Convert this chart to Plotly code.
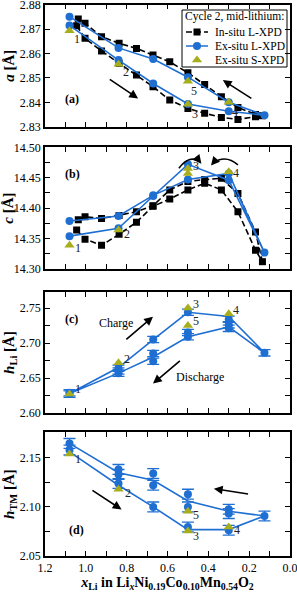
import plotly.graph_objects as go

# ---------------- data ----------------
# In-situ L-XPD (black squares), charge then discharge
insitu_x = [1.045, 1.004, 0.923, 0.837, 0.752, 0.671, 0.589, 0.50, 0.418, 0.336, 0.255, 0.169, 0.135,
            0.169, 0.255, 0.336, 0.418, 0.50, 0.589, 0.671, 0.752, 0.837, 0.923, 1.004, 1.037]
insitu_a = [2.8714, 2.8662, 2.8610, 2.8560, 2.8512, 2.8464, 2.8409, 2.8375, 2.8355, 2.8338, 2.8330, 2.8341, 2.8345,
            2.8350, 2.8379, 2.8423, 2.8473, 2.8521, 2.8566, 2.8594, 2.8621, 2.8642, 2.8669, 2.8724, 2.8741]
insitu_c = [14.364, 14.349, 14.339, 14.357, 14.377, 14.403, 14.415, 14.430, 14.441, 14.430, 14.394, 14.331, 14.312,
            14.361, 14.424, 14.449, 14.447, 14.444, 14.430, 14.404, 14.394, 14.388, 14.383, 14.386, 14.381]

# Ex-situ L-XPD (blue circles): path through the cycle
exl_x = [1.08, 0.84, 0.67, 0.50, 0.30, 0.125, 0.30, 0.50, 0.67, 0.84, 1.08]
exl_a = [2.8715, 2.8573, 2.8477, 2.8393, 2.8363, 2.8347, 2.8400, 2.8503, 2.8577, 2.8623, 2.8751]
exl_c = [14.354, 14.367, 14.420, 14.472, 14.446, 14.327, 14.457, 14.447, 14.421, 14.387, 14.379]
exl_hli_line = [2.628, 2.665, 2.705, 2.744, 2.738, 2.686, 2.723, 2.709, 2.680, 2.657, 2.628]
exl_htm_line = [2.1561, 2.1221, 2.100, 2.0769, 2.0769, 2.0908, 2.0956, 2.1061, 2.1272, 2.1348, 2.1647]

# Ex-situ L-XPD individual refinements for h_Li and h_TM
exl_pts_x = [1.08, 1.08, 0.84, 0.84, 0.84, 0.67, 0.67, 0.67, 0.50, 0.50, 0.50, 0.30, 0.30, 0.30, 0.125]
exl_hli = [2.629, 2.627, 2.664, 2.660, 2.657, 2.705, 2.685, 2.674, 2.744, 2.715, 2.709, 2.734, 2.726, 2.721, 2.686]
exl_htm = [2.1647, 2.1579, 2.1382, 2.1331, 2.1239, 2.1341, 2.1221, 2.100, 2.113, 2.100, 2.0796, 2.0976, 2.0932, 2.0762, 2.0908]
hli_err = 0.0045
htm_err = 0.005

# Ex-situ S-XPD (triangles), samples 1,2,3,5,4
exs_labels = ["1", "2", "3", "5", "4"]
exs_x = [1.08, 0.84, 0.50, 0.50, 0.30]
exs_a = [2.8693, 2.8556, 2.8392, 2.8486, 2.8400]
exs_c = [14.339, 14.364, 14.465, 14.457, 14.460]
exs_hli = [2.627, 2.672, 2.750, 2.725, 2.742]
exs_htm = [2.1538, 2.118, 2.0755, 2.0956, 2.0796]

x_ticks = [round(0.1 * i, 1) for i in range(13)]

legend_title = "Cycle 2, mid-lithium:"
legend_names = ["In-situ L-XPD", "Ex-situ L-XPD", "Ex-situ S-XPD"]

# ---------------- style ----------------
BLUE = "#1f6fd3"
OLIVE = "#a6ae1c"
FONT = "Liberation Serif"

W, H = 297, 592
ML, MR, MT, MB = 45, 7, 4, 36
PH = H - MT - MB
PW = W - ML - MR

def dom(top_px, bot_px):
    return [(H - MB - bot_px) / PH, (H - MB - top_px) / PH]

PANEL_PX = [(4.7, 126.7), (147.3, 269), (292, 413), (432.3, 556)]
doms = [dom(t, b) for t, b in PANEL_PX]

fig = go.Figure()

def add_panel(i, blk_y, blue_line_y, tri_y, blue_pts=None, err=None):
    xa = "x" if i == 1 else f"x{i}"
    ya = "y" if i == 1 else f"y{i}"
    if blk_y is not None:
        fig.add_trace(go.Scatter(x=insitu_x, y=blk_y, xaxis=xa, yaxis=ya, mode="lines+markers",
                                 line=dict(color="black", width=1.6, dash="6px,3px"),
                                 marker=dict(symbol="square", size=7, color="black"),
                                 showlegend=False))
    if blue_pts is None:
        fig.add_trace(go.Scatter(x=exl_x, y=blue_line_y, xaxis=xa, yaxis=ya, mode="lines+markers",
                                 line=dict(color=BLUE, width=1.6),
                                 marker=dict(symbol="circle", size=8, color=BLUE),
                                 showlegend=False))
    else:
        fig.add_trace(go.Scatter(x=exl_x, y=blue_line_y, xaxis=xa, yaxis=ya, mode="lines",
                                 line=dict(color=BLUE, width=1.6), showlegend=False))
        fig.add_trace(go.Scatter(x=exl_pts_x, y=blue_pts, xaxis=xa, yaxis=ya, mode="markers",
                                 marker=dict(symbol="circle", size=8, color=BLUE),
                                 error_y=dict(type="constant", value=err, color=BLUE, thickness=1.3, width=6),
                                 showlegend=False))
    fig.add_trace(go.Scatter(x=exs_x, y=tri_y, xaxis=xa, yaxis=ya, mode="markers",
                             marker=dict(symbol="triangle-up", size=9, color=OLIVE),
                             showlegend=False))

add_panel(1, insitu_a, exl_a, exs_a)
add_panel(2, insitu_c, exl_c, exs_c)
add_panel(3, None, exl_hli_line, exs_hli, blue_pts=exl_hli, err=hli_err)
add_panel(4, None, exl_htm_line, exs_htm, blue_pts=exl_htm, err=htm_err)

# ---------------- legend (drawn in an overlay axis in pixel units) ----------------
LB = dict(x0=182, x1=287, y0=10, y1=67)
fig.add_trace(go.Scatter(x=[LB["x0"], LB["x1"], LB["x1"], LB["x0"], LB["x0"]],
                         y=[LB["y0"], LB["y0"], LB["y1"], LB["y1"], LB["y0"]],
                         xaxis="x5", yaxis="y5", mode="lines", fill="toself", fillcolor="white",
                         line=dict(color="black", width=1), showlegend=False, hoverinfo="skip"))
rows_y = [32, 46, 60]
sx0, sx1, sxm, tx = 186, 208, 197, 213
fig.add_trace(go.Scatter(x=[sx0, sx1], y=[rows_y[0]] * 2, xaxis="x5", yaxis="y5", mode="lines",
                         line=dict(color="black", width=1.6, dash="6px,3px"), showlegend=False))
fig.add_trace(go.Scatter(x=[sxm], y=[rows_y[0]], xaxis="x5", yaxis="y5", mode="markers",
                         marker=dict(symbol="square", size=7, color="black"), showlegend=False))
fig.add_trace(go.Scatter(x=[sx0, sx1], y=[rows_y[1]] * 2, xaxis="x5", yaxis="y5", mode="lines",
                         line=dict(color=BLUE, width=1.6), showlegend=False))
fig.add_trace(go.Scatter(x=[sxm], y=[rows_y[1]], xaxis="x5", yaxis="y5", mode="markers",
                         marker=dict(symbol="circle", size=8, color=BLUE), showlegend=False))
fig.add_trace(go.Scatter(x=[sxm], y=[rows_y[2]], xaxis="x5", yaxis="y5", mode="markers",
                         marker=dict(symbol="triangle-up", size=9, color=OLIVE), showlegend=False))

axis_common = dict(showline=True, linecolor="black", linewidth=1.5, mirror="ticks", ticks="inside",
                   ticklen=5, tickwidth=1.2, tickcolor="black", showgrid=False, zeroline=False,
                   automargin=False, tickfont=dict(family=FONT, size=12, color="black"))

yspecs = [
    dict(range=[2.83, 2.88], tickvals=[2.83, 2.84, 2.85, 2.86, 2.87, 2.88],
         ticktext=["2.83", "2.84", "2.85", "2.86", "2.87", "2.88"],
         title="<b><i>a</i> [Å]</b>"),
    dict(range=[14.30, 14.50], tickvals=[14.30 + 0.025 * k for k in range(9)],
         ticktext=["14.30", " ", "14.35", " ", "14.40", " ", "14.45", " ", "14.50"],
         title="<b><i>c</i> [Å]</b>"),
    dict(range=[2.60, 2.773], tickvals=[2.60 + 0.025 * k for k in range(7)],
         ticktext=["2.60", " ", "2.65", " ", "2.70", " ", "2.75"],
         title="<b><i>h</i><sub>Li</sub> [Å]</b>"),
    dict(range=[2.05, 2.176], tickvals=[2.05 + 0.025 * k for k in range(6)],
         ticktext=["2.05", " ", "2.10", " ", "2.15", " "],
         title="<b><i>h</i><sub>TM</sub> [Å]</b>"),
]

layout = dict(width=W, height=H, margin=dict(l=ML, r=MR, t=MT, b=MB),
              paper_bgcolor="white", plot_bgcolor="white", showlegend=False,
              font=dict(family=FONT, size=12, color="black"))

for i in range(1, 5):
    xk = "xaxis" if i == 1 else f"xaxis{i}"
    yk = "yaxis" if i == 1 else f"yaxis{i}"
    ya = "y" if i == 1 else f"y{i}"
    xa = "x" if i == 1 else f"x{i}"
    xlab = [("%.1f" % v if round(v * 10) % 2 == 0 else " ") for v in x_ticks]
    xd = dict(axis_common, range=[1.2, 0.0], domain=[0, 1], anchor=ya, tickvals=x_ticks, ticktext=xlab,
              showticklabels=(i == 4), ticklabeloverflow="allow")
    if i == 4:
        xd["title"] = dict(text="<b><i>x</i><sub>Li</sub> in Li<sub><i>x</i></sub>Ni<sub>0.19</sub>Co<sub>0.10</sub>Mn<sub>0.54</sub>O<sub>2</sub></b>",
                           font=dict(family=FONT, size=14), standoff=2)
    layout[xk] = xd
    s = yspecs[i - 1]
    layout[yk] = dict(axis_common, range=s["range"], domain=doms[i - 1], anchor=xa,
                      tickvals=s["tickvals"], ticktext=s["ticktext"], ticklabeloverflow="allow",
                      title=dict(text=s["title"], font=dict(family=FONT, size=15), standoff=2))

# overlay axis for legend in pixel units (over panel a)
layout["xaxis5"] = dict(overlaying="x", range=[ML, ML + PW], visible=False, fixedrange=True)
layout["yaxis5"] = dict(overlaying="y", range=[PANEL_PX[0][1], PANEL_PX[0][0]], visible=False, fixedrange=True,
                        anchor="x5")
fig.update_layout(**layout)

# ---------------- annotations ----------------
ann = []
ann.append(dict(text=legend_title, x=(LB["x0"] + LB["x1"]) / 2, y=16, xref="x5", yref="y5", showarrow=False,
                font=dict(family=FONT, size=11.5, color="black")))
for name, yy in zip(legend_names, rows_y):
    ann.append(dict(text=name, x=tx, y=yy, xref="x5", yref="y5", showarrow=False, xanchor="left",
                    font=dict(family=FONT, size=11.5, color="black")))

def num(txt, x, y, ax):
    xa = "x" if ax == 1 else f"x{ax}"
    ya = "y" if ax == 1 else f"y{ax}"
    ann.append(dict(text=txt, x=x, y=y, xref=xa, yref=ya, showarrow=False,
                    font=dict(family=FONT, size=12, color="#222")))

for t, x, y in [("1", 1.045, 2.8658), ("2", 0.804, 2.8525), ("5", 0.47, 2.8448), ("3", 0.467, 2.8351), ("4", 0.271, 2.8361)]:
    num(t, x, y, 1)
for t, x, y in [("1", 1.037, 14.334), ("2", 0.796, 14.358), ("3", 0.462, 14.469), ("4", 0.263, 14.457)]:
    num(t, x, y, 2)
for t, x, y in [("1", 1.04, 2.635), ("2", 0.80, 2.6777), ("3", 0.462, 2.7553), ("5", 0.462, 2.7314), ("4", 0.263, 2.7467)]:
    num(t, x, y, 3)
for t, x, y in [("1", 1.037, 2.1487), ("2", 0.793, 2.1137), ("5", 0.459, 2.0915), ("3", 0.459, 2.0701), ("4", 0.258, 2.0769)]:
    num(t, x, y, 4)

for lab, ax, xd_, yd_ in [("(a)", 1, 0.075, 0.15), ("(b)", 2, 0.075, 0.855), ("(c)", 3, 0.075, 0.851), ("(d)", 4, 0.088, 0.135)]:
    xa = "x" if ax == 1 else f"x{ax}"
    ya = "y" if ax == 1 else f"y{ax}"
    ann.append(dict(text=f"<b>{lab}</b>", x=xd_, y=yd_, xref=f"{xa} domain", yref=f"{ya} domain",
                    showarrow=False, font=dict(family=FONT, size=12, color="black")))

def arrow(ax, x0, y0, x1, y1):
    xa = "x" if ax == 1 else f"x{ax}"
    ya = "y" if ax == 1 else f"y{ax}"
    ann.append(dict(x=x1, y=y1, ax=x0, ay=y0, xref=xa, yref=ya, axref=xa, ayref=ya, text="",
                    showarrow=True, arrowhead=2, arrowsize=1.1, arrowwidth=1.6, arrowcolor="black"))

arrow(1, 0.89, 2.8498, 0.744, 2.8416)
arrow(1, 0.182, 2.8412, 0.329, 2.8491)
arrow(3, 0.809, 2.7036, 0.671, 2.7376)
arrow(3, 0.532, 2.6763, 0.671, 2.642)
arrow(4, 0.975, 2.1178, 0.825, 2.0974)
arrow(4, 0.198, 2.113, 0.373, 2.1186)
# curved arrow heads in (b)
arrow(2, 0.448, 14.479, 0.434, 14.473)
arrow(2, 0.372, 14.476, 0.387, 14.470)

ann.append(dict(text="Charge", x=0.85, y=2.729, xref="x3", yref="y3", showarrow=False,
                font=dict(family=FONT, size=12, color="black")))
ann.append(dict(text="Discharge", x=0.442, y=2.651, xref="x3", yref="y3", showarrow=False,
                font=dict(family=FONT, size=12, color="black")))
fig.update_layout(annotations=ann)

# curved arcs in (b)
fig.add_shape(type="path", xref="x2", yref="y2", path="M 0.544,14.4655 Q 0.491,14.489 0.440,14.476",
              line=dict(color="black", width=1.6))
fig.add_shape(type="path", xref="x2", yref="y2", path="M 0.255,14.471 Q 0.315,14.489 0.378,14.474",
              line=dict(color="black", width=1.6))

# remove the browser's default 8px body margin so the figure sits at the page origin
fig.write_html("out.html", config={"displayModeBar": False},
               post_script="document.body.style.margin='0px';document.body.style.padding='0px';")
